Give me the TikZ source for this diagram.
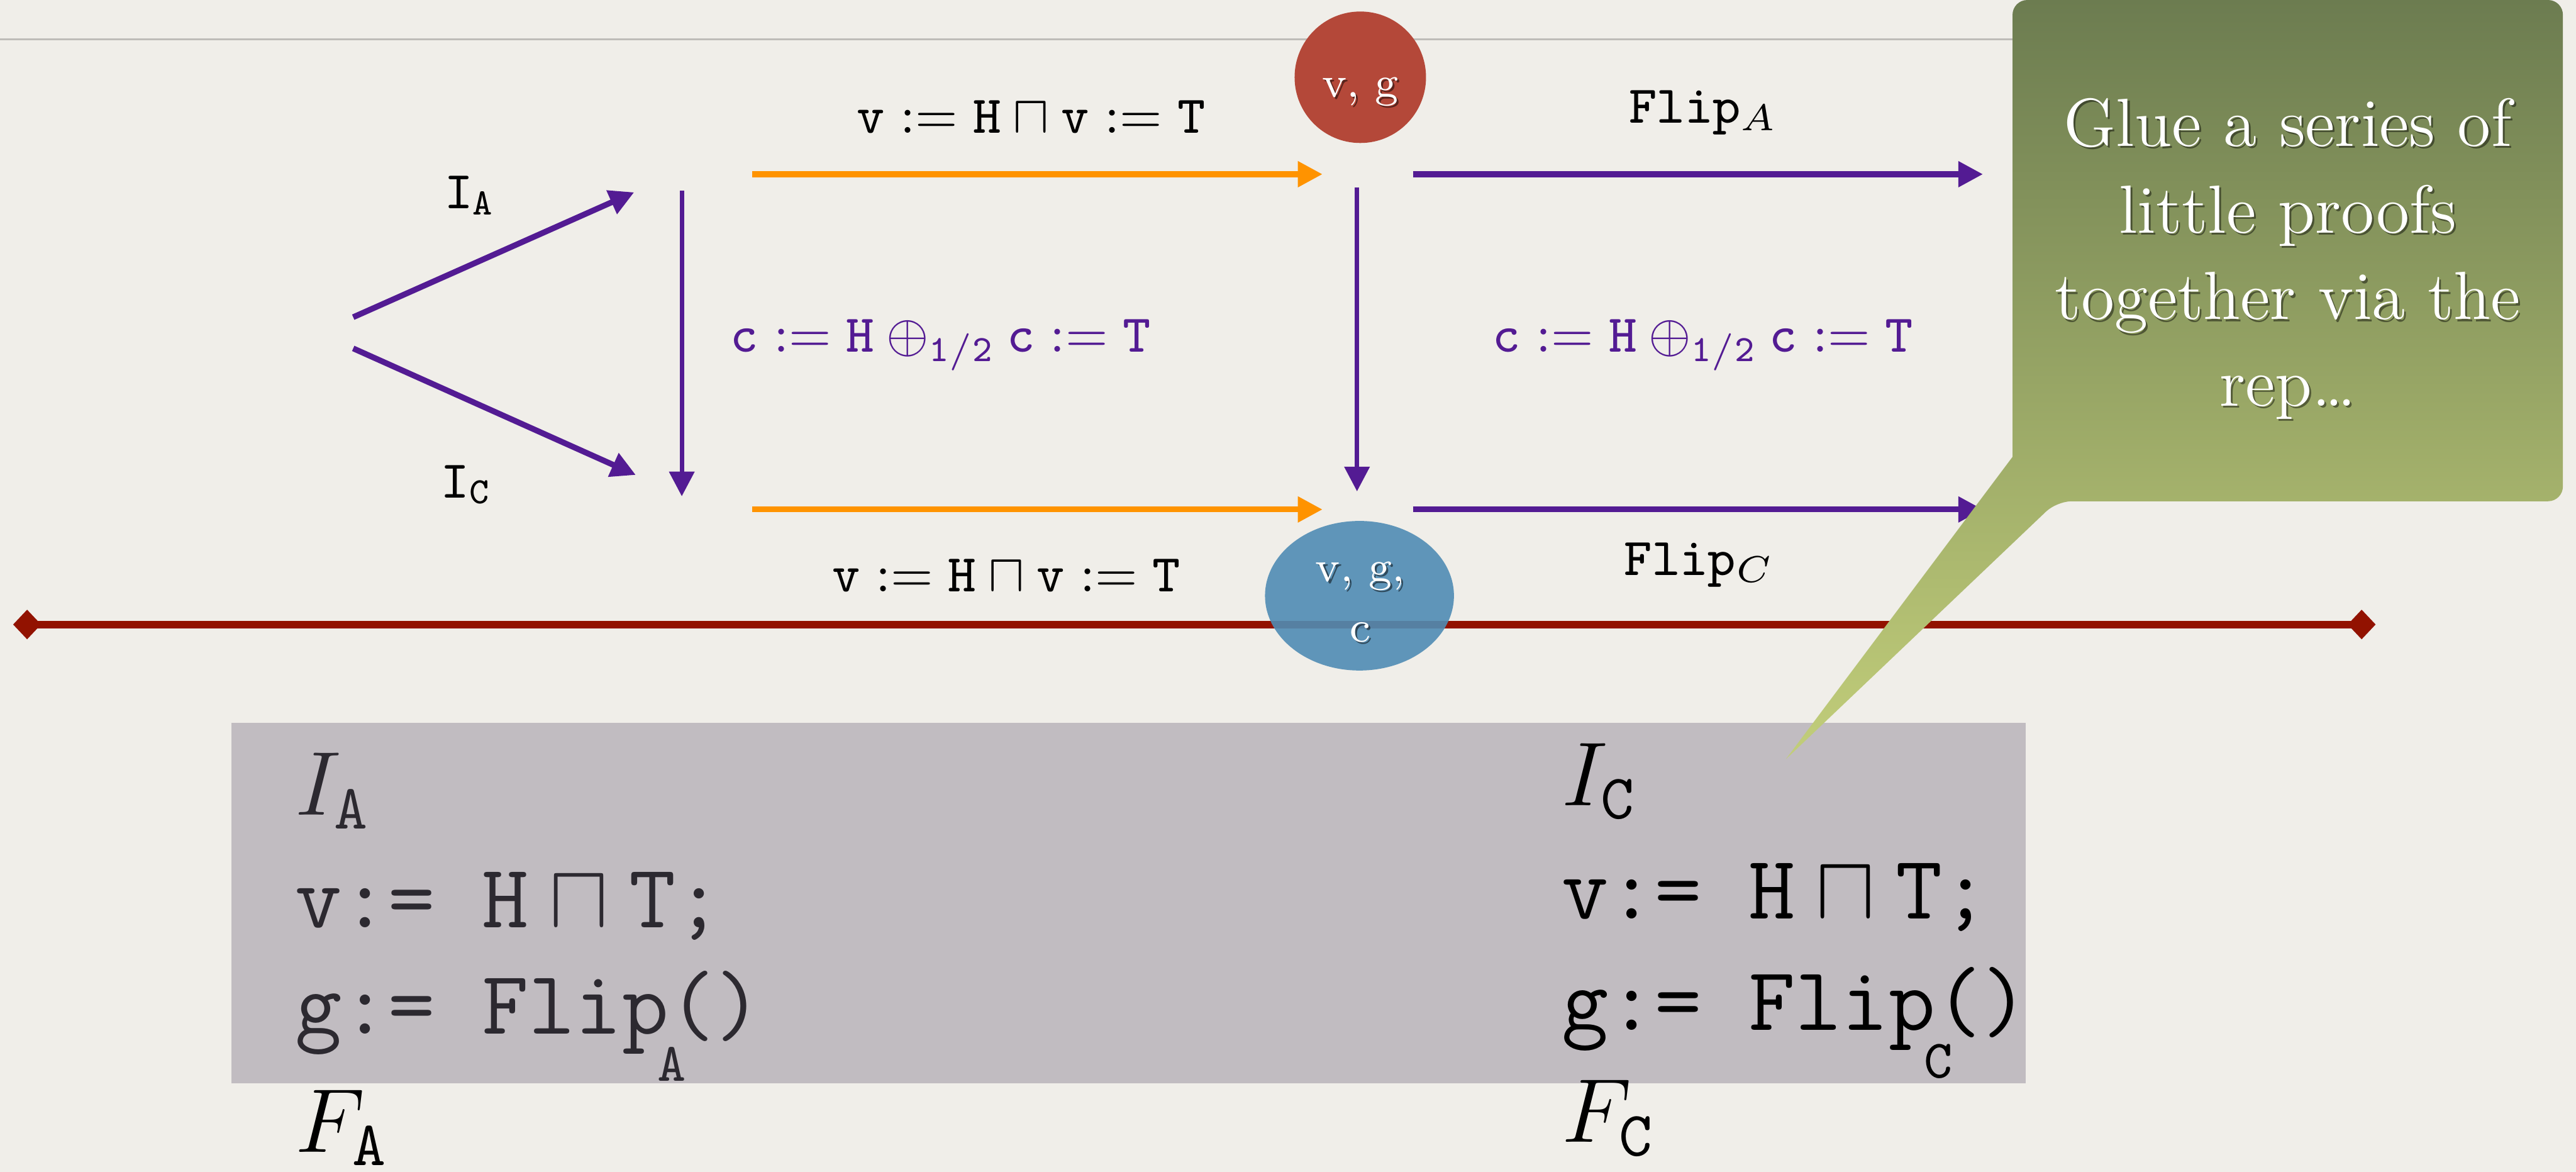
\RequirePackage{fix-cm}
\documentclass[tikz,border=0pt]{standalone}
\usepackage{amsmath}
\usepackage{amssymb}
\usepackage{tikz}
\usetikzlibrary{
    arrows.meta,
    positioning,
    shapes.geometric
}
\definecolor{paper}{RGB}{240,238,233}
\definecolor{hairline}{RGB}{190,188,184}
\definecolor{prp}{RGB}{83,27,147}
\definecolor{org}{RGB}{255,147,0}
\definecolor{brick}{RGB}{180,72,57}
\definecolor{steel}{RGB}{80,140,180}
\definecolor{maroon}{RGB}{146,18,0}
\definecolor{slab}{RGB}{193,188,193}
\definecolor{olivetop}{RGB}{108,124,80}
\definecolor{olivebot}{RGB}{194,206,122}
\definecolor{ink}{RGB}{44,41,48}

\begin{document}
\begin{tikzpicture}[>={Triangle[length=0.15cm,width=0.15cm]},
    lbl/.style={inner sep=0pt, anchor=base west, font=\fontsize{9.2}{11}\selectfont},
    big/.style={inner sep=0pt, anchor=base west, font=\fontsize{15.7}{19}\selectfont},
    blob/.style={white, inner sep=0pt, anchor=base, font=\fontsize{7.6}{9}\selectfont},
    blobshadow/.style={blob, black, opacity=0.5}]
    \fill[paper] (0,0) rectangle (15.68,-7.131);
    \useasboundingbox (0,0) rectangle (15.68,-7.131);

    \coordinate (S1) at (2.15,-1.93);
    \coordinate (S2) at (2.15,-2.12);
    \coordinate (TA) at (3.86,-1.17);
    \coordinate (TC) at (3.87,-2.89);
    \coordinate (L1) at (4.15,-1.16);
    \coordinate (L2) at (4.15,-3.02);
    \coordinate (R1) at (8.26,-1.14);
    \coordinate (R2) at (8.26,-2.99);
    \coordinate (OA) at (4.58,-1.06);
    \coordinate (OB) at (8.05,-1.06);
    \coordinate (OC) at (4.58,-3.10);
    \coordinate (OD) at (8.05,-3.10);
    \coordinate (PA) at (8.60,-1.06);
    \coordinate (PB) at (12.07,-1.06);
    \coordinate (PC) at (8.60,-3.10);
    \coordinate (PD) at (12.07,-3.10);
    \coordinate (W) at (0.08,-3.80);
    \coordinate (E) at (14.46,-3.80);

    % slide furniture
    \draw[hairline, line width=0.35pt] (0,-0.24) -- (12.3,-0.24);
    \fill[slab] (1.41,-4.40) rectangle (12.33,-6.59);
    \draw[maroon, line width=1.3pt,
        {Diamond[length=0.17cm,width=0.18cm]}-{Diamond[length=0.17cm,width=0.18cm]}] (W) -- (E);

    % arrows
    \draw[->, prp, line width=1pt] (S1) -- (TA);
    \draw[->, prp, line width=1pt] (S2) -- (TC);
    \draw[->, prp, line width=0.75pt] (L1) -- (L2);
    \draw[->, prp, line width=0.75pt] (R1) -- (R2);
    \draw[->, org, line width=1pt] (OA) -- (OB);
    \draw[->, org, line width=1pt] (OC) -- (OD);
    \draw[->, prp, line width=1pt] (PA) -- (PB);
    \draw[->, prp, line width=1pt] (PC) -- (PD);

    \node[lbl] (ia) at (2.70,-1.27) {$\mathtt{I}_{\mathtt{A}}$};
    \node[lbl] (ic) at (2.68,-3.03) {$\mathtt{I}_{\mathtt{C}}$};
    \node[lbl] (vtop) at (5.21,-0.81)
        {$\mathtt{v} := \mathtt{H} \sqcap \mathtt{v} := \mathtt{T}$};
    \node[lbl] (vbot) at (5.06,-3.60)
        {$\mathtt{v} := \mathtt{H} \sqcap \mathtt{v} := \mathtt{T}$};
    \node[lbl, prp] (cleft) at (4.44,-2.14)
        {$\mathtt{c} := \mathtt{H} \oplus_{\mathtt{1/2}} \mathtt{c} := \mathtt{T}$};
    \node[lbl, prp] (cright) at (9.08,-2.14)
        {$\mathtt{c} := \mathtt{H} \oplus_{\mathtt{1/2}} \mathtt{c} := \mathtt{T}$};
    \node[lbl] (fla) at (9.91,-0.75) {\texttt{Flip}$_{A}$};
    \node[lbl] (flc) at (9.88,-3.50) {\texttt{Flip}$_{C}$};

    % the two states
    \node[circle, fill=brick, minimum size=0.8cm, inner sep=0pt] (vg) at (8.28,-0.47) {};
    \node[blobshadow] (vgs) at (8.292,-0.602) {v, g};
    \node[blob] (vgt) at (8.28,-0.59) {v, g};
    \node[ellipse, fill=steel, fill opacity=0.9, minimum width=1.15cm,
        minimum height=0.91cm, inner sep=0pt] (vgc) at (8.275,-3.625) {};
    \node[blobshadow] (vgcs1) at (8.292,-3.552) {v, g,};
    \node[blob] (vgct1) at (8.28,-3.54) {v, g,};
    \node[blobshadow] (vgcs2) at (8.292,-3.917) {c};
    \node[blob] (vgct2) at (8.28,-3.905) {c};

    % programs
    \node[big, ink] (inA) at (1.79,-4.96) {$I_{\mathtt{A}}$};
    \node[big, ink] (vA) at (1.79,-5.645)
        {\texttt{v:= }$\mathtt{H}\sqcap\mathtt{T}$\texttt{;}};
    \node[big, ink] (gA) at (1.79,-6.29) {\texttt{g:= Flip}\rlap{\kern-0.07cm\raisebox{-0.29cm}{\fontsize{9.4}{10}\selectfont\texttt{A}}}\texttt{()}};
    \node[big] (fA) at (1.79,-7.01) {$F_{\mathtt{A}}$};
    \node[big] (inC) at (9.50,-4.90) {$I_{\mathtt{C}}$};
    \node[big] (vC) at (9.50,-5.59)
        {\texttt{v:= }$\mathtt{H}\sqcap\mathtt{T}$\texttt{;}};
    \node[big] (gC) at (9.50,-6.27) {\texttt{g:= Flip}\rlap{\kern-0.07cm\raisebox{-0.29cm}{\fontsize{9.4}{10}\selectfont\texttt{C}}}\texttt{()}};
    \node[big] (fC) at (9.50,-6.95) {$F_{\mathtt{C}}$};

    % callout
    \shade[top color=olivetop, bottom color=olivebot]
        (10.87,-4.62) -- (12.25,-2.78) [rounded corners=0.09cm] -- (12.25,0)
        -- (15.60,0) -- (15.60,-3.05) -- (12.52,-3.05) [sharp corners] -- cycle;
    \node[font=\fontsize{11.8}{15}\selectfont, align=center, inner sep=0pt,
        black, opacity=0.45] (glues) at (13.937,-1.587)
        {Glue a series of\\ little proofs\\ together via the\\ rep\ldots};
    \node[font=\fontsize{11.8}{15}\selectfont, align=center, inner sep=0pt,
        white] (glue) at (13.925,-1.575)
        {Glue a series of\\ little proofs\\ together via the\\ rep\ldots};
\end{tikzpicture}
\end{document}
